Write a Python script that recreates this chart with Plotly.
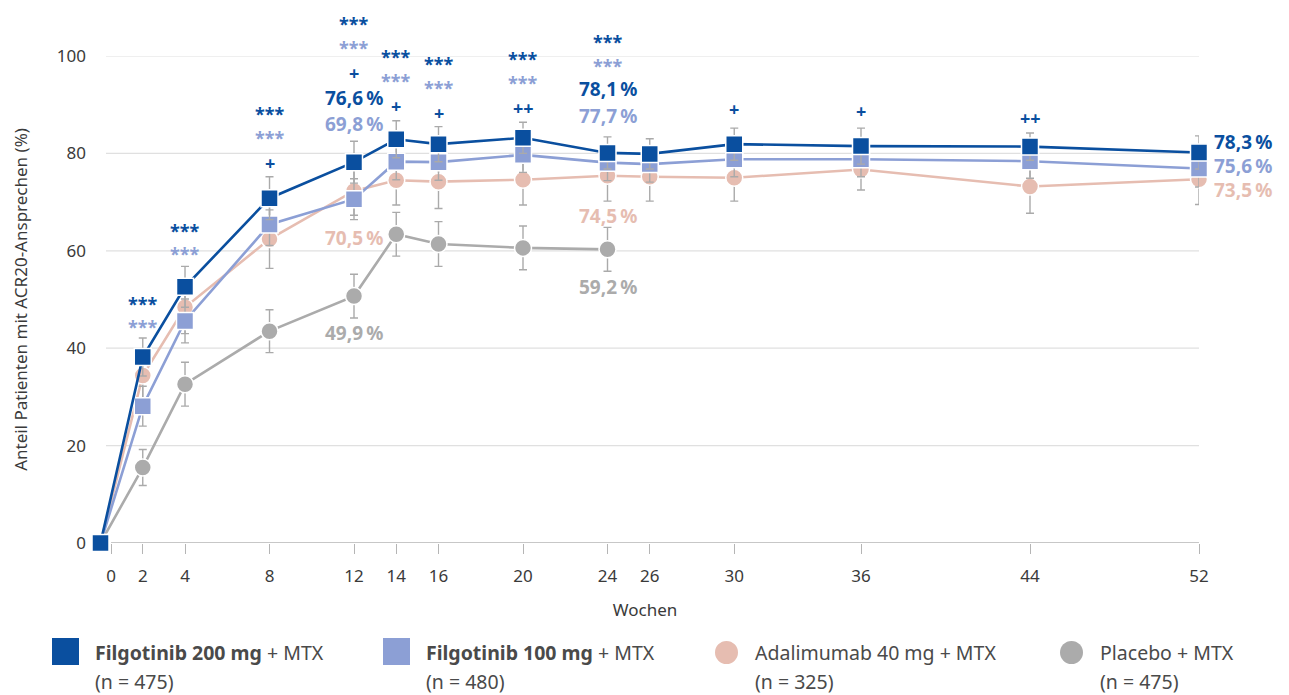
import plotly.graph_objects as go

# ---------------- data ----------------
weeks = [0, 2, 4, 8, 12, 14, 16, 20, 24, 26, 30, 36, 44, 52]
weeks_placebo = [0, 2, 4, 8, 12, 14, 16, 20, 24]

filgo200 = [0, 38.2, 52.6, 70.8, 78.2, 82.9, 81.9, 83.2, 80.1, 79.9, 81.9, 81.5, 81.4, 80.2]
filgo200_err = [0, 3.9, 4.2, 4.4, 4.3, 3.8, 3.6, 3.2, 3.3, 3.1, 3.3, 3.7, 2.8, 3.4]

filgo100 = [0, 28.1, 45.6, 65.4, 70.6, 78.3, 78.2, 79.7, 78.1, 77.8, 78.8, 78.8, 78.4, 76.9]
filgo100_err = [0, 4.1, 4.5, 4.3, 4.2, 3.7, 3.7, 3.6, 3.7, 3.7, 3.6, 3.6, 3.5, 3.8]

adali = [0, 34.4, 48.4, 62.4, 72.3, 74.5, 74.2, 74.6, 75.4, 75.2, 75.0, 76.7, 73.2, 74.7]
adali_err = [0, 5.2, 5.4, 6.0, 5.0, 5.1, 5.5, 5.2, 5.2, 5.0, 4.8, 4.2, 5.5, 5.2]

placebo = [0, 15.5, 32.6, 43.5, 50.7, 63.4, 61.4, 60.6, 60.3]
placebo_err = [0, 3.7, 4.5, 4.4, 4.5, 4.5, 4.6, 4.5, 4.5]

tick_labels = ["0", "2", "4", "8", "12", "14", "16", "20", "24", "26", "30", "36", "44", "52"]
y_ticks = [0, 20, 40, 60, 80, 100]

# significance markers
sig_weeks = [2, 4, 8, 12, 14, 16, 20, 24]
sig200 = ["***"] * 8
sig100 = ["***"] * 8
plus_weeks = [8, 12, 14, 16, 20, 30, 36, 44]
plus_labels = ["+", "+", "+", "+", "++", "+", "+", "++"]

value_labels_w12 = ["76,6\u202f%", "69,8\u202f%", "70,5\u202f%", "49,9\u202f%"]
value_labels_w24 = ["78,1\u202f%", "77,7\u202f%", "74,5\u202f%", "59,2\u202f%"]
value_labels_w52 = ["78,3\u202f%", "75,6\u202f%", "73,5\u202f%"]

legend_names = ["Filgotinib 200 mg", "Filgotinib 100 mg", "Adalimumab 40 mg", "Placebo"]
legend_n = ["(n = 475)", "(n = 480)", "(n = 325)", "(n = 475)"]

# ---------------- style ----------------
C200 = "#0a4f9f"
C100 = "#8c9fd5"
CADA = "#e6bdb1"
CPLA = "#ababab"
ERRC = "#aaaaaa"
TXT = "#3a3a3a"
FONT = "Noto Sans, Lato, sans-serif"

# page geometry (page has an 8px body offset)
OFF = 8
PLOT_L, PLOT_R, PLOT_T, PLOT_B = 91, 1199, 56, 543
PW, PH = PLOT_R - PLOT_L, PLOT_B - PLOT_T

def px(xp):
    return (xp - PLOT_L) / PW

def py(yp):
    return (PLOT_B - yp) / PH

fig = go.Figure()

def add_series(x, y, err, color, symbol, size):
    fig.add_trace(go.Scatter(
        x=x, y=y, mode="lines+markers",
        line=dict(color=color, width=2.6),
        marker=dict(symbol=symbol, size=size, color=color, line=dict(color="white", width=1.5)),
        error_y=dict(type="data", array=err, color=ERRC, thickness=1.4, width=4),
        cliponaxis=False, showlegend=False, hoverinfo="x+y",
    ))

add_series(weeks_placebo, placebo, placebo_err, CPLA, "circle", 17)
add_series(weeks, adali, adali_err, CADA, "circle", 17)
add_series(weeks, filgo100, filgo100_err, C100, "square", 17)
add_series(weeks, filgo200, filgo200_err, C200, "square", 17)

ann = []
def a(x, y, text, color, size=18, bold=True, **kw):
    t = f"<b>{text}</b>" if bold else text
    d = dict(x=x, y=y / 100, xref="x", yref="paper", text=t, showarrow=False,
             xanchor="center", yanchor="middle",
             font=dict(family=FONT, size=size, color=color))
    d.update(kw)
    ann.append(d)

sig200_y = {2: 49.0, 4: 64.0, 8: 88.0, 12: 106.5, 14: 99.7, 16: 98.3, 20: 99.3, 24: 102.8}
sig100_y = {2: 44.3, 4: 59.3, 8: 83.1, 12: 101.6, 14: 94.8, 16: 93.4, 20: 94.4, 24: 97.9}
plus_y = {8: 78.0, 12: 96.5, 14: 89.7, 16: 88.3, 20: 89.3, 30: 89.1, 36: 88.7, 44: 87.3}

for w, s in zip(sig_weeks, sig200):
    a(w, sig200_y[w], s, C200)
for w, s in zip(sig_weeks, sig100):
    a(w, sig100_y[w], s, C100)
for w, s in zip(plus_weeks, plus_labels):
    a(w, plus_y[w], s, C200)

cols4 = [C200, C100, CADA, CPLA]
for lab, yy, c in zip(value_labels_w12, [91.4, 86.0, 62.6, 43.1], cols4):
    a(12, yy, lab, c, size=19)
for lab, yy, c in zip(value_labels_w24, [93.2, 87.6, 67.1, 52.6], cols4):
    a(24, yy, lab, c, size=19)
for lab, yy, c in zip(value_labels_w52, [82.3, 77.4, 72.5], cols4[:3]):
    a(52, yy, lab, c, size=19, xanchor="left", xshift=13)

shapes = []
# horizontal grid lines and x axis line
for v in y_ticks[1:]:
    shapes.append(dict(type="line", xref="x", yref="y", x0=0.26, x1=52, y0=v, y1=v,
                       line=dict(color="#e0e0e0", width=1.2), layer="below"))
shapes.append(dict(type="line", xref="x", yref="y", x0=0.5, x1=52, y0=0, y1=0,
                   line=dict(color="#b5b5b5", width=1.5), layer="below"))

# manual legend
leg_x = [52, 383, 712, 1057]
for i, (nm, n) in enumerate(zip(legend_names, legend_n)):
    x0 = leg_x[i]
    c = cols4[i]
    if i < 2:
        shapes.append(dict(type="rect", xref="paper", yref="paper",
                           x0=px(x0), x1=px(x0 + 27), y0=py(665), y1=py(638),
                           fillcolor=c, line=dict(width=0)))
    else:
        shapes.append(dict(type="circle", xref="paper", yref="paper",
                           x0=px(x0 + 3), x1=px(x0 + 26), y0=py(664), y1=py(641),
                           fillcolor=c, line=dict(width=0)))
    tx = px(x0 + 41)
    first = (f"<b>{nm}</b> + MTX" if i < 2 else f"{nm} + MTX")
    ann.append(dict(x=tx, y=py(652), xref="paper", yref="paper", text=first,
                    showarrow=False, xanchor="left", yanchor="middle",
                    font=dict(family=FONT, size=19.5, color="#4a4a4a")))
    ann.append(dict(x=tx, y=py(681), xref="paper", yref="paper", text=n,
                    showarrow=False, xanchor="left", yanchor="middle",
                    font=dict(family=FONT, size=19.5, color="#4a4a4a")))

W, H = 1289 - OFF, 695 - OFF
fig.update_layout(
    width=W, height=H,
    margin=dict(l=PLOT_L - OFF, r=W - (PLOT_R - OFF), t=PLOT_T - OFF, b=H - (PLOT_B - OFF)),
    paper_bgcolor="white", plot_bgcolor="white",
    font=dict(family=FONT, size=17, color=TXT),
    annotations=ann, shapes=shapes, showlegend=False,
    xaxis=dict(
        range=[-0.45, 52], tickvals=[0.5] + weeks[1:], ticktext=tick_labels,
        showgrid=False, zeroline=False, showline=False,
        ticks="outside", ticklen=10, tickcolor="#b5b5b5", tickwidth=1.2,
        ticklabelstandoff=8,
        tickfont=dict(family=FONT, size=17, color=TXT),
        title=dict(text="Wochen", font=dict(family=FONT, size=17, color=TXT), standoff=17),
    ),
    yaxis=dict(
        range=[0, 100], tickvals=y_ticks,
        showgrid=False, zeroline=False, showline=False, ticks="", ticklabelstandoff=4,
        tickfont=dict(family=FONT, size=17, color=TXT),
        title=dict(text="Anteil Patienten mit ACR20-Ansprechen (%)",
                   font=dict(family=FONT, size=17, color=TXT), standoff=24),
    ),
)

fig.write_html("out.html")
